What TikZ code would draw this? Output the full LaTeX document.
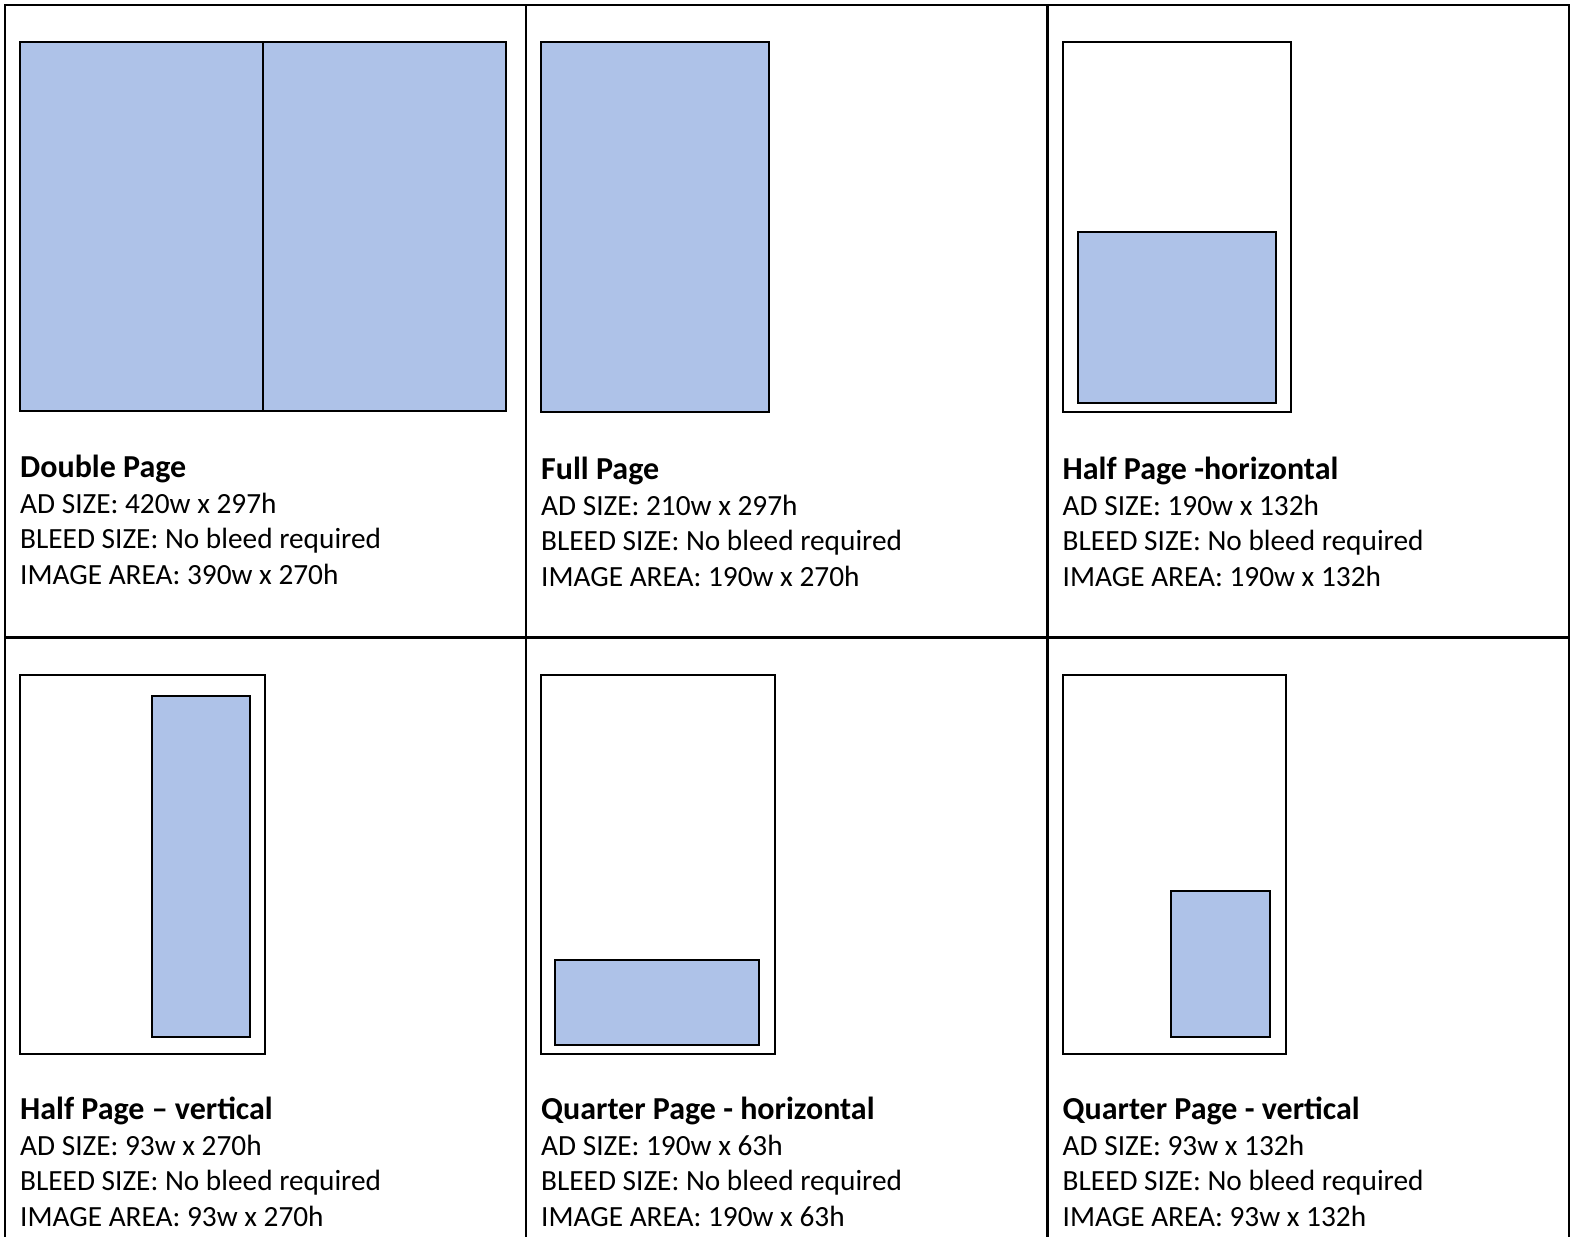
\documentclass[tikz,border=0pt]{standalone}
\usepackage{fontspec}
\setmainfont{Carlito}
\definecolor{adblue}{RGB}{174,194,232}
\tikzset{
  frame/.style={line width=2.1pt},
  page/.style={draw=black,line width=2pt,fill=white},
  ad/.style={draw=black,line width=2pt,fill=adblue},
  txt/.style={anchor=base west,inner sep=0pt,font=\fontsize{29.3}{36}\selectfont},
  ttl/.style={txt,font=\fontsize{32}{36}\selectfont\bfseries},
}
\newcommand{\adblock}[7]{%
  \node[ttl] (#1t) at (#2,#3) {#4};
  \node[txt] (#1a) at (#2,#3+36) {AD SIZE: #5};
  \node[txt] (#1b) at (#2,#3+71.5) {BLEED SIZE: No bleed required};
  \node[txt] (#1c) at (#2,#3+107.5) {IMAGE AREA: #6};
}
\begin{document}
\begin{tikzpicture}[x=1pt,y=-1pt]
\useasboundingbox (0,0) rectangle (1572,1237);
\clip (0,0) rectangle (1572,1237);
\fill[white] (0,0) rectangle (1572,1237);
% table grid
\draw[frame] (5,1300) -- (5,5) -- (1569,5) -- (1569,1300);
\draw[frame] (5,637.5) -- (1569,637.5);
\draw[frame] (526,5) -- (526,1300);
\draw[frame] (1047.5,5) -- (1047.5,1300);
% Double page
\draw[ad] (20,42) rectangle (506,411);
\draw[line width=2pt] (263,42) -- (263,411);
% Full page
\draw[ad] (541,42) rectangle (768.5,412);
% Half page horizontal
\draw[page] (1062.5,42) rectangle (1290.5,412);
\draw[ad] (1077.5,232) rectangle (1275.5,403);
% Half page vertical
\draw[page] (20,675) rectangle (265,1054);
\draw[ad] (151.5,696) rectangle (250,1036.5);
% Quarter page horizontal
\draw[page] (541,675) rectangle (775,1054);
\draw[ad] (555,960) rectangle (759,1045);
% Quarter page vertical
\draw[page] (1062.5,675) rectangle (1286,1054);
\draw[ad] (1171,891) rectangle (1270,1036.5);
% texts
\adblock{dp}{20}{477}{Double Page}{420w x 297h}{390w x 270h}{}
\adblock{fp}{541}{479.3}{Full Page}{210w x 297h}{190w x 270h}{}
\adblock{hh}{1062.5}{479.3}{Half Page -horizontal}{190w x 132h}{190w x 132h}{}
\adblock{hv}{20}{1119}{Half Page – vertical}{93w x 270h}{93w x 270h}{}
\adblock{qh}{541}{1119}{Quarter Page - horizontal}{190w x 63h}{190w x 63h}{}
\adblock{qv}{1062.5}{1119}{Quarter Page - vertical}{93w x 132h}{93w x 132h}{}
\end{tikzpicture}
\end{document}
